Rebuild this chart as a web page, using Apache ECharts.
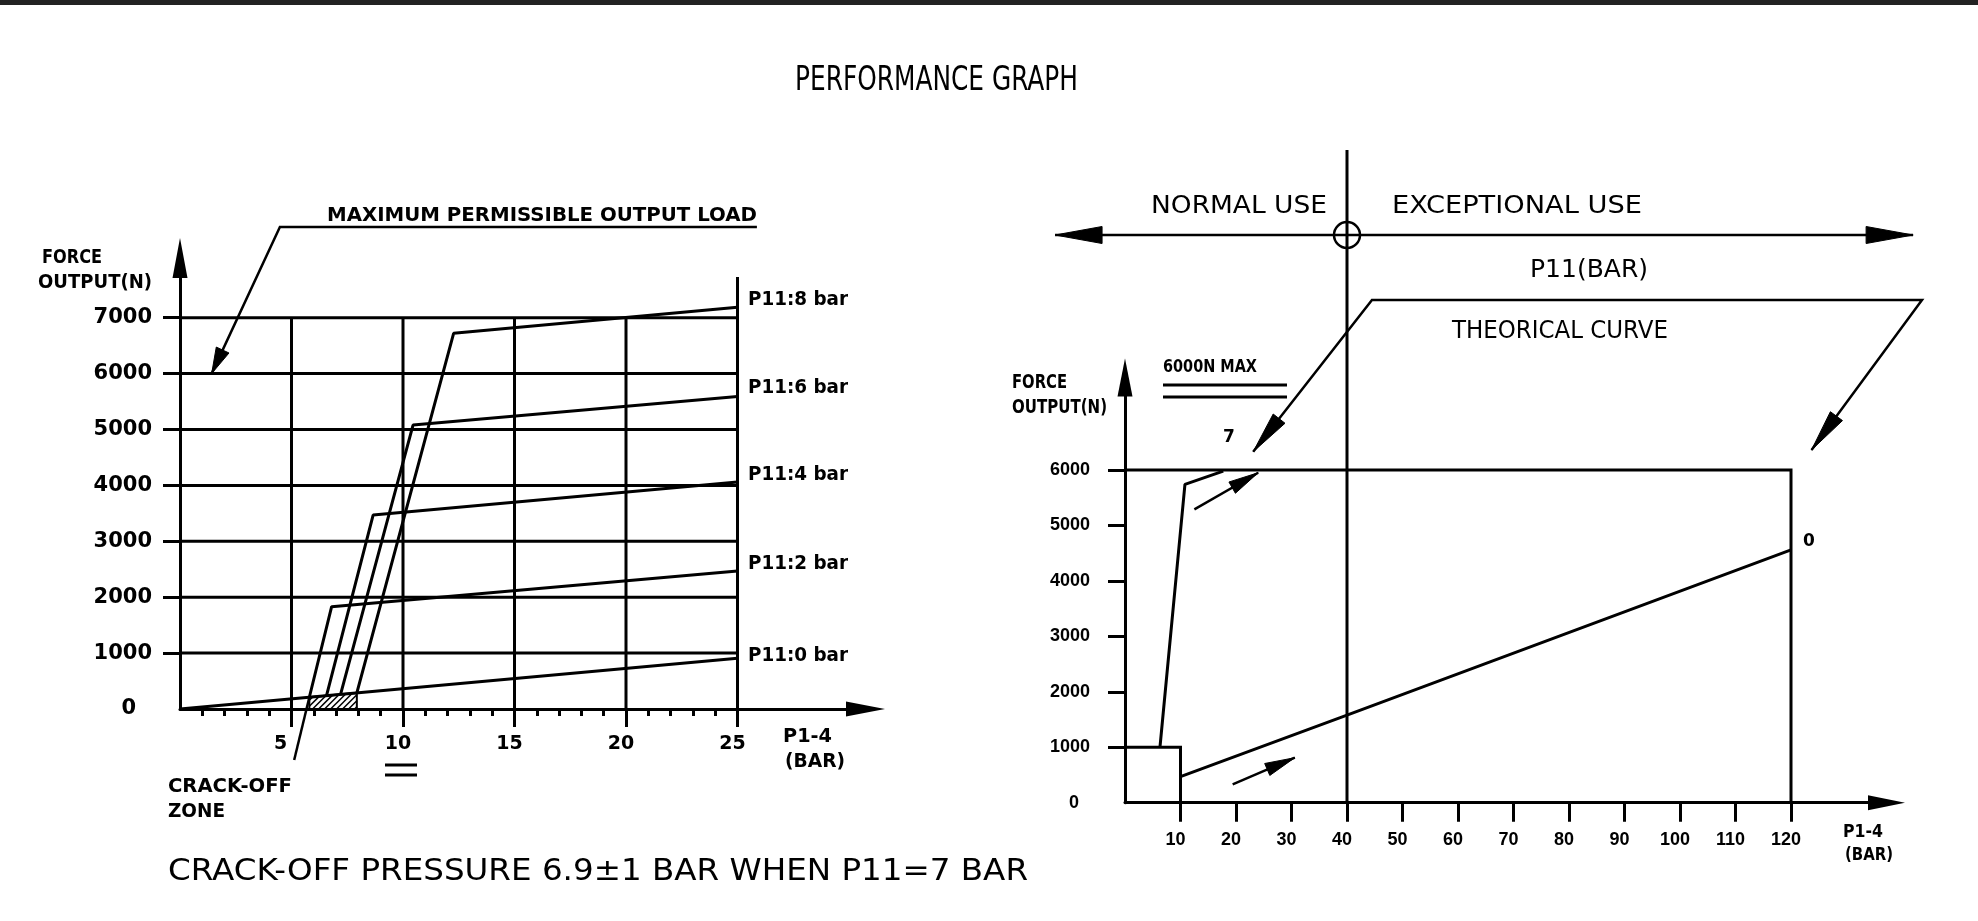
<!DOCTYPE html>
<html>
<head>
<meta charset="utf-8">
<title>Performance graph</title>
<script src="https://cdn.jsdelivr.net/npm/echarts@6/dist/echarts.min.js"></script>
<style>
  html, body { margin: 0; padding: 0; background: #fff; }
  #chart { width: 1978px; height: 921px; }
</style>
</head>
<body>
<div id="chart"></div>
<script>
// ---------- left graph : force output vs P1-4, one curve per P11 ----------
const leftXTicks = [5, 10, 15, 20, 25]
const leftMinorTicks = [1, 2, 3, 4, 6, 7, 8, 9, 11, 12, 13, 14, 16, 17, 18, 19, 21, 22, 23, 24]
const leftYTicks = [0, 1000, 2000, 3000, 4000, 5000, 6000, 7000]
const p11Labels = ['P11:0 bar', 'P11:2 bar', 'P11:4 bar', 'P11:6 bar', 'P11:8 bar']
const p11Curves = [
  [[0, 0], [25, 907]],
  [[5.8, 210], [6.8, 1830], [25, 2470]],
  [[6.57, 238], [8.66, 3470], [25, 4060]],
  [[7.2, 261], [10.45, 5080], [25, 5590]],
  [[7.93, 288], [12.27, 6720], [25, 7186]]
]
const crackZone = [[5.8, 0], [5.8, 210], [7.93, 288], [7.93, 0]]
const leftGridMaxY = 7000
const leftGridMaxX = 25
const leftFrameTop = 7730
// leader lines of the left graph (in graph units)
const maxLoadLeader = [[25.87, 8623], [4.48, 8623], [1.42, 6000]]
const crackLeader = [[5.12, -912], [5.8, 210]]

// ---------- right graph : theoretical curve ----------
const rightXTicks = [10, 20, 30, 40, 50, 60, 70, 80, 90, 100, 110, 120]
const rightYTicks = [0, 1000, 2000, 3000, 4000, 5000, 6000]
const curveP11_7 = [[6.3, 1000], [10.8, 5740], [17.7, 5980]]
const curveP11_0 = [[10, 470], [40, 1580], [120, 4560]]
const maxLoadBox = [[0, 6000], [120, 6000], [120, 0]]
const crackBox = [[0, 1000], [10, 1000], [10, 0]]
const useLimit = 40
const useAxisY = 10238
const useAxis = [[-12.6, useAxisY], [142.0, useAxisY]]
const useDivider = [[useLimit, 11771], [useLimit, 0]]
const theoryCallout = [[23.1, 6330], [44.5, 9066], [143.6, 9066], [123.7, 6361]]
const smallArrows = [[[12.5, 5291], [24.0, 5951]], [[19.4, 332], [30.6, 812]]]

// ---------- layout (pixels) ----------
const L = { x0: 180, y0: 709, ux: 22.3, uy: 0.0559, xEnd: 865.5, yEnd: 258 }
const R = { x0: 1125, y0: 802.7, ux: 5.55, uy: 0.05545, xEnd: 1886.5, yEnd: 377.5 }
const INK = '#000'
const BOLD_FONT = 'DejaVu Sans'
const NUM_FONT = 'Liberation Sans'

const chart = echarts.init(document.getElementById('chart'))

const measureCtx = document.createElement('canvas').getContext('2d')
const textEl = (str, left, cy, width, size, weight) => {
  measureCtx.font = `${weight} ${size}px "${BOLD_FONT}"`
  const w = measureCtx.measureText(str).width
  return {
    type: 'text', x: left, y: cy, scaleX: width ? width / w : 1, silent: true,
    style: {
      text: str, fill: INK, fontSize: size, fontWeight: weight, fontFamily: BOLD_FONT,
      align: 'left', verticalAlign: 'middle', textAlign: 'left', textVerticalAlign: 'middle'
    }
  }
}
const lineEl = (x1, y1, x2, y2, w) => ({
  type: 'line', silent: true, shape: { x1, y1, x2, y2 }, style: { stroke: INK, lineWidth: w }
})

const segs = (name, gi, list, width) => ({
  type: 'lines', name, coordinateSystem: 'cartesian2d', xAxisIndex: gi, yAxisIndex: gi,
  polyline: true, clip: false, silent: true, z: 3,
  lineStyle: { color: INK, width, opacity: 1, curveness: 0 },
  data: list.map(c => ({ coords: c }))
})
const curve = (name, gi, pts, width) => ({
  type: 'line', name, xAxisIndex: gi, yAxisIndex: gi, data: pts, showSymbol: false, symbol: 'none',
  clip: false, silent: true, z: 4, lineStyle: { color: INK, width }
})
// filled arrow heads: item = [tipX, tipY, fromX, fromY]
const heads = (name, gi, list, len, wid) => ({
  type: 'custom', name, xAxisIndex: gi, yAxisIndex: gi, clip: false, silent: true, z: 5,
  data: list,
  renderItem: (params, api) => {
    const t = api.coord([api.value(0), api.value(1)])
    const f = api.coord([api.value(2), api.value(3)])
    const dx = t[0] - f[0], dy = t[1] - f[1]
    const d = Math.hypot(dx, dy)
    const ux = dx / d, uy = dy / d
    const bx = t[0] - ux * len, by = t[1] - uy * len
    return {
      type: 'polygon',
      shape: { points: [t, [bx - uy * wid / 2, by + ux * wid / 2], [bx + uy * wid / 2, by - ux * wid / 2]] },
      style: { fill: INK, stroke: INK, lineWidth: 1 }
    }
  }
})

const hatch = {
  type: 'custom', name: 'crack-off zone', xAxisIndex: 0, yAxisIndex: 0, clip: false, silent: true, z: 3,
  data: [0],
  renderItem: (params, api) => {
    const pts = crackZone.map(p => api.coord(p))
    const xl = pts[0][0], xr = pts[3][0], yb = pts[0][1]
    const ytl = pts[1][1], ytr = pts[2][1]
    const s = (ytr - ytl) / (xr - xl)
    const children = [{
      type: 'polygon', shape: { points: pts }, style: { fill: 'none', stroke: INK, lineWidth: 2 }
    }]
    for (let k = xl + ytl + 3; k < xr + yb; k += 6) {
      const a = Math.max(xl, k - yb)
      const b = Math.min(xr, (k - ytl + xl * s) / (1 + s))
      if (b > a) {
        children.push({
          type: 'line', shape: { x1: a, y1: k - a, x2: b, y2: k - b },
          style: { stroke: INK, lineWidth: 1.5 }
        })
      }
    }
    return { type: 'group', children }
  }
}

const ring = {
  type: 'custom', name: 'use limit', xAxisIndex: 1, yAxisIndex: 1, clip: false, silent: true, z: 5,
  data: [[useLimit, useAxisY]],
  renderItem: (params, api) => {
    const c = api.coord([api.value(0), api.value(1)])
    return { type: 'circle', shape: { cx: c[0], cy: c[1], r: 13 }, style: { fill: 'none', stroke: INK, lineWidth: 2.5 } }
  }
}

const leftGrid = []
leftYTicks.filter(v => v > 0).forEach(v => leftGrid.push([[0, v], [leftGridMaxX, v]]))
leftXTicks.filter(v => v < leftGridMaxX).forEach(v => leftGrid.push([[v, 0], [v, leftGridMaxY]]))
leftGrid.push([[leftGridMaxX, 0], [leftGridMaxX, leftFrameTop]])

const axisBase = (gi, min, max) => ({
  gridIndex: gi, type: 'value', min, max, splitLine: { show: false }
})
// tick labels in the drawing sit a little left of their ticks
const shiftedLabel = (font, size, shift) => ({
  formatter: v => `{${typeof shift === 'function' && shift(v) ? 'b' : 'a'}|${v}}`,
  rich: {
    a: { padding: [0, 10, 0, 0], color: INK, fontFamily: font, fontSize: size, fontWeight: 'bold' },
    b: { padding: [0, 22, 0, 0], color: INK, fontFamily: font, fontSize: size, fontWeight: 'bold' }
  }
})

const option = {
  animation: false,
  backgroundColor: '#fff',
  grid: [
    { left: L.x0, top: L.yEnd, width: L.xEnd - L.x0, height: L.y0 - L.yEnd, containLabel: false, outerBoundsMode: 'none' },
    { left: R.x0, top: R.yEnd, width: R.xEnd - R.x0, height: R.y0 - R.yEnd, containLabel: false, outerBoundsMode: 'none' }
  ],
  xAxis: [
    Object.assign(axisBase(0, 0, (L.xEnd - L.x0) / L.ux), {
      position: 'bottom',
      axisLine: { lineStyle: { color: INK, width: 3 }, symbol: ['none', 'triangle'], symbolSize: [15, 39] },
      axisTick: { customValues: leftXTicks, length: 18, lineStyle: { color: INK, width: 3 } },
      axisLabel: Object.assign({ customValues: leftXTicks, margin: 26, color: INK, fontFamily: BOLD_FONT, fontSize: 19, fontWeight: 'bold' },
        shiftedLabel(BOLD_FONT, 19, v => v === 5))
    }),
    Object.assign(axisBase(1, 0, (R.xEnd - R.x0) / R.ux), {
      position: 'bottom',
      axisLine: { lineStyle: { color: INK, width: 3 }, symbol: ['none', 'triangle'], symbolSize: [15, 37] },
      axisTick: { customValues: rightXTicks, length: 19, lineStyle: { color: INK, width: 3 } },
      axisLabel: Object.assign({ customValues: rightXTicks, margin: 28, color: INK, fontFamily: NUM_FONT, fontSize: 18, fontWeight: 'bold' },
        shiftedLabel(NUM_FONT, 18, null))
    }),
    Object.assign(axisBase(0, 0, (L.xEnd - L.x0) / L.ux), {
      position: 'bottom',
      axisLine: { show: false },
      axisTick: { customValues: leftMinorTicks, length: 7, lineStyle: { color: INK, width: 3 } },
      axisLabel: { show: false }
    })
  ],
  yAxis: [
    Object.assign(axisBase(0, 0, (L.y0 - L.yEnd) / L.uy), {
      axisLine: { lineStyle: { color: INK, width: 3 }, symbol: ['none', 'triangle'], symbolSize: [15, 40] },
      axisTick: { customValues: leftYTicks.slice(1), length: 17, lineStyle: { color: INK, width: 3 } },
      axisLabel: {
        customValues: leftYTicks, margin: 28, color: INK, fontFamily: BOLD_FONT, fontSize: 21, fontWeight: 'bold',
        formatter: v => (v === 0 ? '{z|0}' : String(v)),
        rich: { z: { padding: [0, 16, 0, 0], color: INK, fontFamily: BOLD_FONT, fontSize: 21, fontWeight: 'bold' } }
      }
    }),
    Object.assign(axisBase(1, 0, (R.y0 - R.yEnd) / R.uy), {
      axisLine: { lineStyle: { color: INK, width: 3 }, symbol: ['none', 'triangle'], symbolSize: [15, 38] },
      axisTick: { customValues: rightYTicks.slice(1), length: 17, lineStyle: { color: INK, width: 3 } },
      axisLabel: {
        customValues: rightYTicks, margin: 35, color: INK, fontFamily: NUM_FONT, fontSize: 18, fontWeight: 'bold',
        formatter: v => (v === 0 ? '{z|0}' : String(v)),
        rich: { z: { padding: [0, 11, 0, 0], color: INK, fontFamily: NUM_FONT, fontSize: 18, fontWeight: 'bold' } }
      }
    })
  ],
  series: [
    segs('grid', 0, leftGrid, 3),
    ...p11Curves.map((c, i) => curve(p11Labels[i], 0, c, 3)),
    hatch,
    segs('max load leader', 0, [maxLoadLeader, crackLeader], 2.5),
    heads('max load arrow', 0, [[...maxLoadLeader[2], ...maxLoadLeader[1]]], 26, 14),

    segs('limits', 1, [maxLoadBox, crackBox, useDivider], 3),
    curve('P11 = 7', 1, curveP11_7, 3),
    curve('P11 = 0', 1, curveP11_0, 3),
    segs('P11 axis', 1, [useAxis, theoryCallout], 2.5),
    segs('small arrows', 1, smallArrows, 2.5),
    heads('callout arrows', 1, [
      [...theoryCallout[0], ...theoryCallout[1]],
      [...theoryCallout[3], ...theoryCallout[2]]
    ], 42, 15),
    heads('P11 axis arrows', 1, [
      [...useAxis[0], useLimit, useAxisY],
      [...useAxis[1], useLimit, useAxisY]
    ], 47, 17),
    heads('small arrow heads', 1, smallArrows.map(a => [...a[1], ...a[0]]), 30, 13),
    ring
  ],
  graphic: [
    { type: 'rect', silent: true, shape: { x: 0, y: 0, width: 1978, height: 5 }, style: { fill: '#222' } },
    textEl('PERFORMANCE GRAPH', 795, 81, 283, 34, 'normal'),
    textEl('MAXIMUM PERMISSIBLE OUTPUT LOAD', 327, 216, 430, 20, 'bold'),
    textEl('FORCE', 42, 258, 60, 20, 'bold'),
    textEl('OUTPUT(N)', 38, 283, 114, 20, 'bold'),
    ...p11Labels.map((t, i) => textEl(t, 748, [656, 564, 475, 388, 300][i], 100, 19, 'bold')),
    textEl('P1-4', 783, 737, 49, 19, 'bold'),
    textEl('(BAR)', 785, 762, 60, 19, 'bold'),
    textEl('CRACK-OFF', 168, 787, 124, 20, 'bold'),
    textEl('ZONE', 168, 812, 57, 20, 'bold'),
    lineEl(385, 765, 417, 765, 3),
    lineEl(385, 775, 417, 775, 3),
    textEl('CRACK-OFF PRESSURE 6.9\u00b11 BAR WHEN P11=7 BAR', 168, 872, 860, 30, 'normal'),

    textEl('NORMAL USE', 1151, 207, 176, 24, 'normal'),
    textEl('EXCEPTIONAL USE', 1392, 207, 250, 24, 'normal'),
    textEl('P11(BAR)', 1530, 271, 118, 24, 'normal'),
    textEl('THEORICAL CURVE', 1452, 332, 216, 24, 'normal'),
    textEl('6000N MAX', 1163, 368, 94, 17, 'bold'),
    lineEl(1163, 385, 1287, 385, 3),
    lineEl(1163, 397, 1287, 397, 3),
    textEl('7', 1223, 438, null, 17, 'bold'),
    textEl('0', 1803, 542, null, 17, 'bold'),
    textEl('FORCE', 1012, 383, 55, 20, 'bold'),
    textEl('OUTPUT(N)', 1012, 408, 95, 20, 'bold'),
    textEl('P1-4', 1843, 832, 40, 18, 'bold'),
    textEl('(BAR)', 1845, 855, 48, 18, 'bold')
  ]
}

chart.setOption(option)
</script>
</body>
</html>
